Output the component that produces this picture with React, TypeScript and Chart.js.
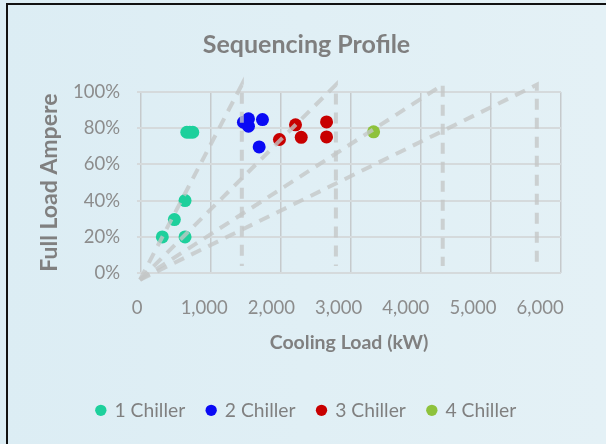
import { useEffect, useRef } from 'react';
import { Chart, registerables } from 'chart.js';

Chart.register(...registerables);

// ---- data ----
const seriesNames = ['1 Chiller', '2 Chiller', '3 Chiller', '4 Chiller'];
const seriesColors = ['#1DD09C', '#0A0AF5', '#C80000', '#8EC23C'];

const chiller1Load = [377, 556, 715, 715, 741, 785, 830];
const chiller1Fla = [20, 29.6, 40.1, 20, 77.8, 77.8, 77.8];

const chiller2Load = [1584, 1659, 1659, 1867, 1818];
const chiller2Fla = [83.3, 85.2, 81.1, 84.8, 69.7];

const chiller3Load = [2120, 2359, 2444, 2821, 2821];
const chiller3Fla = [73.8, 81.9, 75.0, 83.5, 75.2];

const chiller4Load = [3521];
const chiller4Fla = [78.0];

// sequencing guide lines: origin -> apex at capacity -> down the capacity line
const capacityLoad = [1560, 2960, 4550, 5950];
const guideOriginLoad = 45;
const guideOriginFla = -3.6;
const guideTopFla = 104;
const guideBottomFla = 4;

const xTickValues = [0, 1000, 2000, 3000, 4000, 5000, 6000];
const yTickValues = [0, 20, 40, 60, 80, 100];
const gridColumns = [0, 1, 2, 3, 4, 5, 6];

const FONT = 'Lato';

export default function App() {
  const ref = useRef<HTMLCanvasElement | null>(null);

  useEffect(() => {
    if (!ref.current) return;

    const toPts = (xs: number[], ys: number[]) => xs.map((x, i) => ({ x, y: ys[i] }));

    const guideSets = capacityLoad.map((cap) => ({
      label: 'guide',
      data: [
        { x: guideOriginLoad, y: guideOriginFla },
        { x: cap, y: guideTopFla },
        { x: cap, y: guideBottomFla },
      ],
      showLine: true,
      borderColor: 'rgba(196,198,199,0.78)',
      borderWidth: 4,
      borderDash: [11, 8],
      borderCapStyle: 'butt' as const,
      pointRadius: 0,
      pointHoverRadius: 0,
      fill: false,
      clip: false as any,
    }));

    const series = [
      toPts(chiller1Load, chiller1Fla),
      toPts(chiller2Load, chiller2Fla),
      toPts(chiller3Load, chiller3Fla),
      toPts(chiller4Load, chiller4Fla),
    ].map((data, i) => ({
      label: seriesNames[i],
      data,
      backgroundColor: seriesColors[i],
      borderColor: seriesColors[i],
      borderWidth: 0,
      pointRadius: 6.5,
      pointHoverRadius: 6.5,
      pointStyle: 'circle' as const,
    }));

    const bgPlugin = {
      id: 'bg',
      beforeDraw(chart: any) {
        const { ctx, width, height } = chart;
        ctx.save();
        const g = ctx.createLinearGradient(0, 0, width, 0);
        g.addColorStop(0, '#DCEDF4');
        g.addColorStop(1, '#E4F1F6');
        ctx.fillStyle = g;
        ctx.fillRect(0, 0, width, height);
        ctx.strokeStyle = '#111111';
        ctx.lineWidth = 2;
        ctx.beginPath();
        ctx.moveTo(7, height);
        ctx.lineTo(7, 4);
        ctx.lineTo(width, 4);
        ctx.stroke();
        ctx.restore();
      },
    };

    const chart = new Chart(ref.current, {
      type: 'scatter',
      data: { datasets: [...guideSets, ...series] as any },
      options: {
        animation: false,
        responsive: false,
        maintainAspectRatio: false,
        layout: { padding: { left: 52, right: 45, top: 0, bottom: 14 } },
        plugins: {
          tooltip: { enabled: false },
          title: {
            display: true,
            text: 'Sequencing Profile',
            color: '#7F7F7F',
            font: { family: FONT, size: 25, weight: 'bold' },
            padding: { top: 30, bottom: 32 },
          },
          legend: {
            position: 'bottom',
            labels: {
              filter: (item: any) => item.datasetIndex >= capacityLoad.length,
              usePointStyle: true,
              boxWidth: 8,
              boxHeight: 8,
              padding: 22,
              color: '#808080',
              font: { family: FONT, size: 19.3 },
            },
          },
        },
        scales: {
          x: {
            type: 'linear',
            position: 'bottom',
            min: 0,
            max: 6310,
            afterBuildTicks: (axis: any) => {
              axis.ticks = xTickValues.map((v) => ({ value: v }));
            },
            afterFit: (scale: any) => {
              scale.height = 105.5;
            },
            grid: { display: false },
            border: { display: false },
            ticks: {
              color: '#8C8C8C',
              font: { family: FONT, size: 18.5 },
              padding: 15.5,
              maxRotation: 0,
              autoSkip: false,
              callback: (v: any) => Number(v).toLocaleString('en-US'),
            },
            title: {
              display: true,
              text: 'Cooling Load (kW)',
              color: '#808080',
              font: { family: FONT, size: 19.5, weight: 'bold' },
              padding: { top: 0, bottom: 24.3 },
            },
          },
          xg: {
            type: 'linear',
            position: 'bottom',
            min: -0.057,
            max: 6,
            afterBuildTicks: (axis: any) => {
              axis.ticks = gridColumns.map((v) => ({ value: v }));
            },
            afterFit: (scale: any) => {
              scale.height = 0;
            },
            ticks: { display: false },
            grid: { color: '#C6CACC', lineWidth: 1.5, drawTicks: false },
            border: { display: false },
          },
          y: {
            type: 'linear',
            min: 0,
            max: 100,
            afterBuildTicks: (axis: any) => {
              axis.ticks = yTickValues.map((v) => ({ value: v }));
            },
            afterFit: (scale: any) => {
              scale.width = 137 - 52;
            },
            grid: { color: '#D5DADC', lineWidth: 2, drawTicks: false },
            border: { display: false },
            ticks: {
              color: '#8C8C8C',
              font: { family: FONT, size: 18.5 },
              padding: 17,
              callback: (v: any) => v + '%',
            },
            title: {
              display: true,
              text: 'Full Load Ampere',
              color: '#808080',
              font: { family: FONT, size: 23, weight: 'bold' },
              padding: { top: -15.8, bottom: 0 },
            },
          },
        },
      } as any,
      plugins: [bgPlugin],
    });

    return () => chart.destroy();
  }, []);

  return (
    <div style={{ position: 'absolute', left: 0, top: 0, width: 606, height: 444 }}>
      <canvas ref={ref} width={606} height={444} style={{ display: 'block', width: 606, height: 444 }} />
    </div>
  );
}
